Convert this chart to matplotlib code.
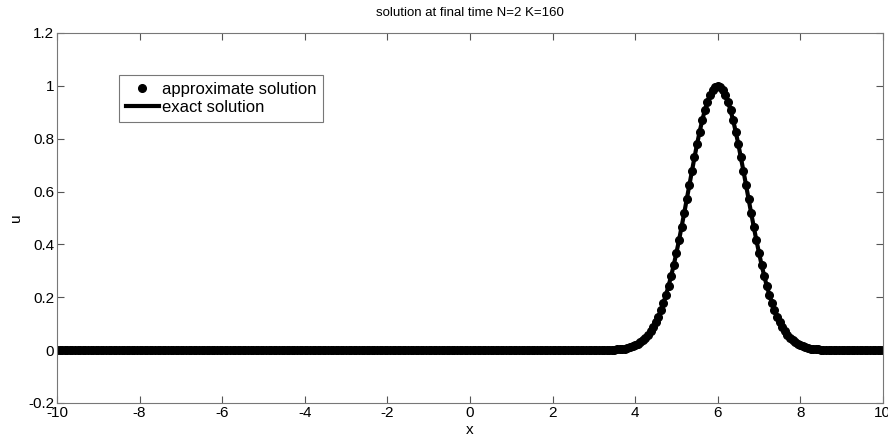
import numpy as np
import matplotlib
matplotlib.use("Agg")
import matplotlib.pyplot as plt

# mesh parameters (from the title)
N = 2
K = 160
x_min, x_max = -10.0, 10.0

# pulse region: x from 3.5 to 8.5 at the node spacing
pulse_start, pulse_end = 3.5, 8.5
u_pulse = [
    0.002, 0.003, 0.004, 0.005, 0.006, 0.008, 0.011, 0.014,
    0.018, 0.023, 0.030, 0.037, 0.047, 0.058, 0.071, 0.087,
    0.105, 0.127, 0.151, 0.179, 0.210, 0.244, 0.282, 0.323,
    0.368, 0.415, 0.465, 0.517, 0.570, 0.623, 0.677, 0.729,
    0.779, 0.826, 0.869, 0.907, 0.939, 0.965, 0.985, 0.996,
    1.000,
    0.996, 0.985, 0.965, 0.939, 0.907, 0.869, 0.826, 0.779,
    0.729, 0.677, 0.623, 0.570, 0.517, 0.465, 0.415, 0.368,
    0.323, 0.282, 0.244, 0.210, 0.179, 0.151, 0.127, 0.105,
    0.087, 0.071, 0.058, 0.047, 0.037, 0.030, 0.023, 0.018,
    0.014, 0.011, 0.008, 0.006, 0.005, 0.004, 0.003, 0.002,
]

x_ticks = [-10, -8, -6, -4, -2, 0, 2, 4, 6, 8, 10]
y_ticks = [-0.2, 0, 0.2, 0.4, 0.6, 0.8, 1, 1.2]
y_tick_labels = ["-0.2", "0", "0.2", "0.4", "0.6", "0.8", "1", "1.2"]

# nodes of the grid, zero outside the pulse
x = np.linspace(x_min, x_max, N * K + 1)
u = np.zeros_like(x)
in_pulse = (x >= pulse_start - 1e-9) & (x <= pulse_end + 1e-9)
u[in_pulse] = u_pulse

plt.rcParams["font.family"] = ["Liberation Sans", "DejaVu Sans"]
plt.rcParams["axes.unicode_minus"] = False

fig = plt.figure(figsize=(8.88, 4.41), dpi=100)
ax = fig.add_axes([0.0642, 0.0862, 0.930, 0.839])

ax.plot(x, u, "o", color="black", markerfacecolor="black", markersize=5.5,
        label="approximate solution")
ax.plot(x, u, "-", color="black", linewidth=3, label="exact solution")

ax.set_xlim(x_min, x_max)
ax.set_ylim(-0.2, 1.2)
ax.set_xticks(x_ticks)
ax.set_yticks(y_ticks)
ax.set_yticklabels(y_tick_labels)
ax.tick_params(direction="in", top=True, right=True, length=5,
               labelsize=11, color="#555555", pad=2)
for s in ax.spines.values():
    s.set_color("#777777")

ax.set_xlabel("x", fontsize=11, labelpad=2)
ax.set_ylabel("u", fontsize=11, labelpad=4)
ax.set_title("solution at final time N=2 K=160", fontsize=9.5, pad=12)

leg = ax.legend(loc="upper left", bbox_to_anchor=(0.075, 0.886),
                borderaxespad=0, fancybox=False, edgecolor="#777777",
                fontsize=12, handlelength=2.0, handletextpad=0.2,
                borderpad=0.4, labelspacing=0.2, framealpha=1)
leg.get_frame().set_linewidth(0.8)

fig.savefig("out.png", dpi=100)
